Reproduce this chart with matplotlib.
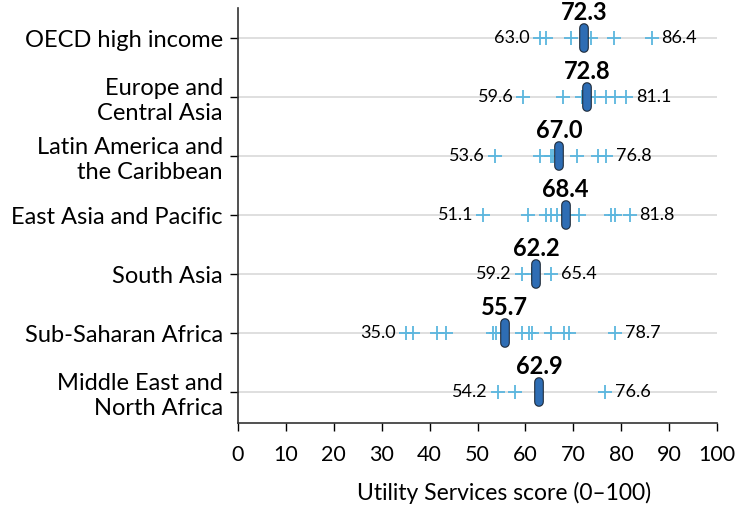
import matplotlib.pyplot as plt
import matplotlib.patheffects as pe

plt.rcParams['font.family'] = ['Lato', 'DejaVu Sans']

regions = ["OECD high income", "Europe and\nCentral Asia", "Latin America and\nthe Caribbean",
           "East Asia and Pacific", "South Asia", "Sub-Saharan Africa", "Middle East and\nNorth Africa"]
means = [72.3, 72.8, 67.0, 68.4, 62.2, 55.7, 62.9]
scores = [
    [63.0, 64.4, 69.5, 73.7, 78.5, 86.4],
    [59.6, 67.8, 71.8, 74.5, 76.9, 78.8, 81.1],
    [53.6, 63.0, 65.3, 65.8, 70.7, 75.2, 76.8],
    [51.1, 60.6, 64.4, 65.3, 66.6, 68.8, 71.1, 77.8, 78.8, 81.8],
    [59.2, 61.3, 65.4],
    [35.0, 36.6, 41.6, 43.4, 53.2, 53.9, 59.2, 60.8, 61.3, 65.3, 68.1, 69.0, 78.7],
    [54.2, 57.8, 76.6],
]

fig = plt.figure(figsize=(7.42, 5.07), dpi=100)
ax = fig.add_axes([0.3208, 0.1657, 0.6455, 0.8183])

for i, (vals, m) in enumerate(zip(scores, means)):
    ax.axhline(i, color='#dcdcdc', lw=1.3, zorder=0)
    ax.plot(vals, [i] * len(vals), linestyle='none', marker='+', ms=10, mew=1.3,
            color='#5bb6de', zorder=2)
    ax.plot([m, m], [i - 0.17, i + 0.17], color='#2e6db4', lw=5.4, solid_capstyle='round', zorder=3,
            path_effects=[pe.Stroke(linewidth=7.0, foreground='#1c2a3a'), pe.Normal()])
    ax.annotate(f"{m:.1f}", (m, i), xytext=(0, 10.5), textcoords='offset points',
                ha='center', va='bottom', fontsize=17, fontweight='bold')
    ax.annotate(f"{min(vals):.1f}", (min(vals), i), xytext=(-7, 0), textcoords='offset points',
                ha='right', va='center', fontsize=13)
    ax.annotate(f"{max(vals):.1f}", (max(vals), i), xytext=(7, 0), textcoords='offset points',
                ha='left', va='center', fontsize=13)

ax.set_xlim(0, 100)
ax.set_ylim(6.52, -0.51)
ax.set_xticks(range(0, 101, 10))
ax.set_yticks(range(len(regions)))
ax.set_yticklabels(regions, fontsize=17, linespacing=1.2)
ax.tick_params(axis='x', labelsize=15.5, length=6, width=1, pad=10)
ax.tick_params(axis='y', length=6, width=1, pad=5)
ax.set_xlabel("Utility Services score (0\u2013100)", fontsize=16.5, labelpad=12, x=0.555)
for s in ['top', 'right']:
    ax.spines[s].set_visible(False)
for s in ['left', 'bottom']:
    ax.spines[s].set_color('#333333')
    ax.spines[s].set_linewidth(1.2)

fig.savefig("out.png", dpi=100)
